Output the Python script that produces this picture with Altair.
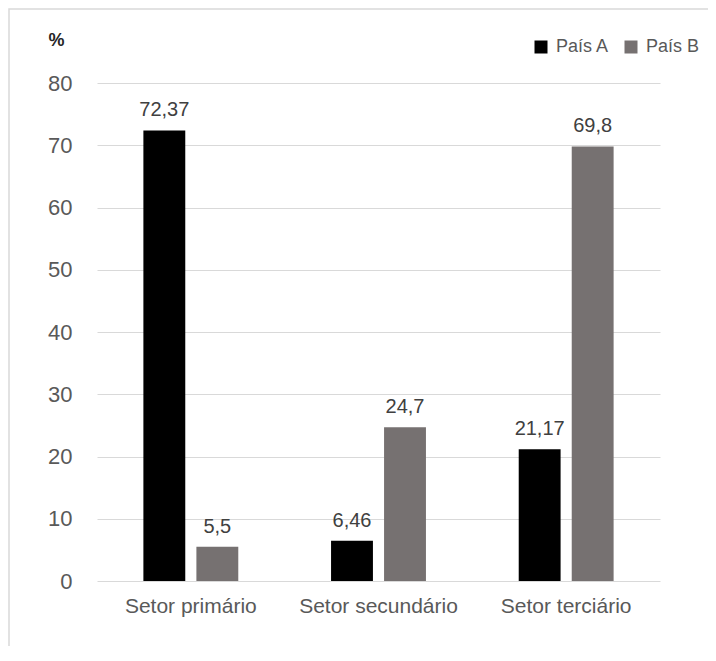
import altair as alt
import pandas as pd

setores = ["Setor primário", "Setor secundário", "Setor terciário"]
pais_a = [72.37, 6.46, 21.17]
pais_b = [5.5, 24.7, 69.8]
series = ["País A", "País B"]
y_ticks = [0, 10, 20, 30, 40, 50, 60, 70, 80]

rows = []
for s, a, b in zip(setores, pais_a, pais_b):
    rows.append({"setor": s, "pais": series[0], "valor": a, "rotulo": str(a).replace(".", ",")})
    rows.append({"setor": s, "pais": series[1], "valor": b, "rotulo": str(b).replace(".", ",")})
df = pd.DataFrame(rows)

FONT = "Liberation Sans, sans-serif"
W, H = 563, 498

base = alt.Chart(df).encode(
    x=alt.X("setor:N", sort=setores,
            scale=alt.Scale(paddingInner=0, paddingOuter=0),
            axis=alt.Axis(title=None, labelAngle=0, labelFontSize=21, labelColor="#595959",
                          labelFont=FONT, domain=False, ticks=False, labelPadding=14)),
    xOffset=alt.XOffset("pais:N", sort=series,
                        scale=alt.Scale(paddingInner=0.21, paddingOuter=0.875)),
)

bars = base.mark_bar().encode(
    y=alt.Y("valor:Q",
            scale=alt.Scale(domain=[0, 80], nice=False),
            axis=alt.Axis(values=y_ticks, title="%", titleAngle=0, titleX=-41, titleY=-43,
                          titleAlign="center", titleBaseline="middle", titleFontSize=18,
                          titleFontWeight="bold", titleColor="#262626", titleFont=FONT,
                          labelFontSize=22, labelColor="#595959", labelFont=FONT,
                          labelPadding=25, domain=False, ticks=False,
                          grid=True, gridColor="#d9d9d9", gridWidth=1.2)),
    color=alt.Color("pais:N", sort=series,
                    scale=alt.Scale(domain=series, range=["#000000", "#767171"]),
                    legend=alt.Legend(title=None, orient="none", legendX=435, legendY=-45,
                                      direction="horizontal", symbolType="square",
                                      symbolSize=169, symbolStrokeWidth=0,
                                      labelFontSize=18, labelColor="#595959", labelFont=FONT,
                                      columnPadding=12, labelOffset=6)),
)

labels = base.mark_text(baseline="alphabetic", dy=-14, fontSize=20, color="#404040",
                        font=FONT).encode(
    y=alt.Y("valor:Q"),
    text="rotulo:N",
)

border = alt.Chart(pd.DataFrame({"k": [0]})).mark_rect(
    fill=None, stroke="#d9d9d9", strokeWidth=1.5
).encode(
    x=alt.value(-88), x2=alt.value(W + 200),
    y=alt.value(-74), y2=alt.value(H + 200),
)

chart = alt.layer(border, bars, labels).properties(
    width=W, height=H,
    autosize=alt.AutoSizeParams(type="none"),
    padding={"left": 89, "top": 75, "right": 48, "bottom": 65},
).configure_view(stroke=None)

chart.save("out.html", embed_options={"renderer": "svg", "actions": False})
